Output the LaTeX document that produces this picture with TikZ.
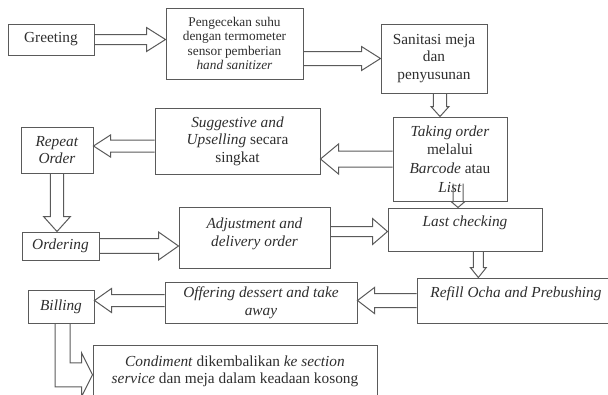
\documentclass[tikz,border=0pt]{standalone}
\usepackage{fontspec}
\setmainfont{Liberation Serif}
\usetikzlibrary{calc}
\definecolor{lin}{HTML}{5A5A5A}
\definecolor{txt}{HTML}{2E2E2E}
\tikzset{
  box/.style={draw=lin, line width=0.75pt, rectangle, inner sep=0pt, align=center,
    text=txt, font=\fontsize{11.5}{13.2}\selectfont},
  blk/.style={draw=lin, line width=0.75pt, line join=miter}
}
\newcommand{\harrow}[5]{%
  \draw[blk] let \p1=#1, \p2=#2, \n1={ifthenelse(\x2>\x1,1,-1)} in
   (\x1,\y1+#3) -- ({\x2-\n1*#5},\y1+#3) -- ({\x2-\n1*#5},\y1+#4) -- (\x2,\y1)
   -- ({\x2-\n1*#5},\y1-#4) -- ({\x2-\n1*#5},\y1-#3) -- (\x1,\y1-#3);}
\newcommand{\varrow}[5]{%
  \draw[blk] let \p1=#1, \p2=#2, \n1={ifthenelse(\y2>\y1,1,-1)} in
   (\x1+#3,\y1) -- (\x1+#3,{\y2-\n1*#5}) -- (\x1+#4,{\y2-\n1*#5}) -- (\x1,\y2)
   -- (\x1-#4,{\y2-\n1*#5}) -- (\x1-#3,{\y2-\n1*#5}) -- (\x1-#3,\y1);}
\begin{document}
\begin{tikzpicture}[x=0.75pt,y=-0.75pt]
\useasboundingbox (0,0) rectangle (608,394);
\clip (0,0) rectangle (608,394);

\node[box, minimum width=64.5pt, minimum height=23.25pt] (greet) at (51,39.5) {Greeting};
\node[box, minimum width=102.75pt, minimum height=53.25pt, font=\fontsize{10}{10.6}\selectfont] (peng) at (234.5,43.5)
  {Pengecekan suhu\\dengan termometer\\sensor pemberian\\\textit{hand sanitizer}};
\node[box, minimum width=79.5pt, minimum height=51.75pt] (sani) at (434,58.5) {Sanitasi meja\\dan\\penyusunan};
\node[box, minimum width=85.5pt, minimum height=63pt, font=\fontsize{11.5}{13.9}\selectfont] (take) at (450,159)
  {\textit{Taking order}\\melalui\\\textit{Barcode} atau\\\textit{List}};
\node[box, minimum width=123.75pt, minimum height=49.5pt] (sugg) at (237.5,141)
  {\textit{Suggestive and}\\\textit{Upselling} secara\\singkat};
\node[box, minimum width=54pt, minimum height=34.5pt] (rep) at (57,150) {\textit{Repeat}\\\textit{Order}};
\node[box, minimum width=57.75pt, minimum height=21pt] (ord) at (60.5,246) {\textit{Ordering}};
\node[box, minimum width=113.25pt, minimum height=45.75pt, text depth=8pt] (adj) at (254.5,237.5)
  {\textit{Adjustment and}\\\textit{delivery order}};
\node[box, minimum width=115.5pt, minimum height=32.25pt, text depth=12pt] (last) at (465,229.5) {\textit{Last checking}};
\node[box, minimum width=148.5pt, minimum height=33.75pt, text depth=12.5pt] (refill) at (516,300.5)
  {\textit{Refill Ocha and Prebushing}};
\node[box, minimum width=144pt, minimum height=30.75pt] (off) at (261,302.5)
  {\textit{Offering dessert and take}\\\textit{away}};
\node[box, minimum width=49.5pt, minimum height=24.75pt] (bill) at (61,306.5) {\textit{Billing}};
\node[box, minimum width=213pt, minimum height=42.75pt, text depth=6pt] (cond) at (235,373.5)
  {\textit{Condiment} dikembalikan \textit{ke section}\\\textit{service} dan meja dalam keadaan kosong};

\harrow{(greet.east)}{(peng.west |- greet.east)}{3.75pt}{9pt}{14.25pt}
\harrow{(peng.east |- sani.west)}{(sani.west)}{5.25pt}{9pt}{14.25pt}
\varrow{([xshift=4.5pt]sani.south)}{([xshift=4.5pt]sani.south |- take.north)}{4.9pt}{6.75pt}{7.5pt}
\harrow{(take.west)}{(sugg.east |- take.west)}{6pt}{11.25pt}{13.5pt}
\harrow{([yshift=-3.75pt]sugg.west)}{([yshift=-3.75pt]sugg.west -| rep.east)}{4.5pt}{8.25pt}{12.75pt}
\varrow{(rep.south)}{(rep.south |- ord.north)}{4.9pt}{10.1pt}{11.25pt}
\harrow{(ord.east)}{(adj.west |- ord.east)}{5.6pt}{10.5pt}{15pt}
\harrow{([yshift=-1.5pt]last.west -| adj.east)}{([yshift=-1.5pt]last.west)}{3.75pt}{9.75pt}{11.25pt}
\varrow{([xshift=6pt,yshift=13.5pt]take.south)}{([xshift=6pt]take.south |- last.north)}{3.75pt}{5.25pt}{4.5pt}
\varrow{([xshift=10pt]last.south)}{([xshift=10pt]last.south |- refill.north)}{3.75pt}{6pt}{7.5pt}
\harrow{(refill.west)}{(off.east |- refill.west)}{5.25pt}{9.75pt}{12.75pt}
\harrow{([yshift=1.5pt]off.west)}{([yshift=1.5pt]off.west -| bill.east)}{4.5pt}{9pt}{12.75pt}
\draw[blk] let \p1=(bill.south), \p2=([yshift=-1pt]cond.west) in
  (\x1-4.5pt,\y1) -- (\x1-4.5pt,\y2-9pt) -- (\x2-8.25pt,\y2-9pt) -- (\x2-8.25pt,\y2-16.5pt)
  -- (\x2,\y2) -- (\x2-8.25pt,\y2+16.5pt) -- (\x2-8.25pt,\y2+9pt) -- (\x1+6.75pt,\y2+9pt) -- (\x1+6.75pt,\y1);
\end{tikzpicture}
\end{document}
